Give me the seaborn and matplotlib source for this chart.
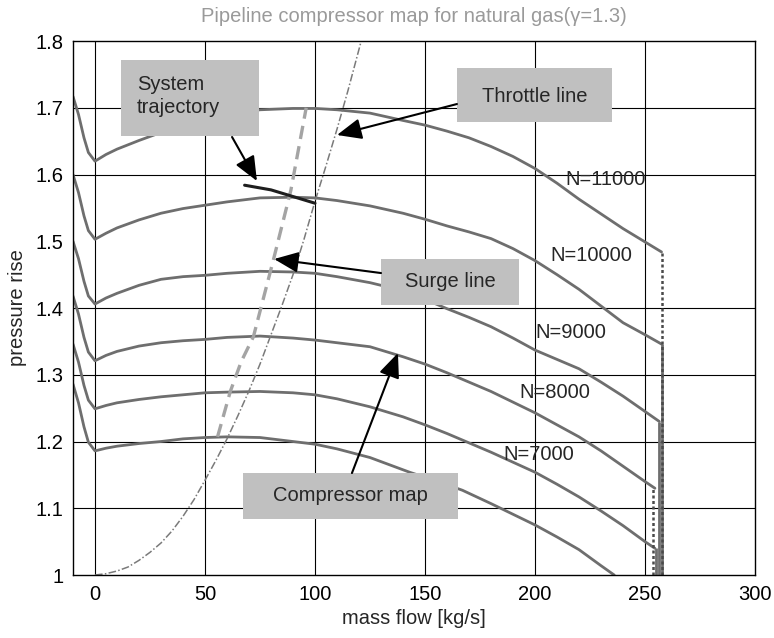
import matplotlib
matplotlib.use("Agg")
import matplotlib.pyplot as plt
from matplotlib.patches import Rectangle
import seaborn as sns
import pandas as pd

# Mass flow [kg/s] sample points shared by the upper speed lines
flow_grid = [-10, -7.5, -5, -3, 0, 5, 10, 20, 30, 40, 50, 60, 75, 90, 100, 110, 125, 140, 150,
             160, 170, 180, 190, 200, 210, 220, 230, 240, 250]

# Pressure rise along each speed line
rise_11000 = [1.717, 1.690, 1.655, 1.633, 1.620, 1.630, 1.638, 1.651, 1.663, 1.674, 1.683, 1.690,
              1.697, 1.699, 1.699, 1.697, 1.692, 1.681, 1.674, 1.665, 1.655, 1.642, 1.627, 1.609,
              1.587, 1.563, 1.541, 1.519, 1.499]
rise_10000 = [1.600, 1.573, 1.538, 1.516, 1.503, 1.512, 1.520, 1.532, 1.542, 1.549, 1.554, 1.559,
              1.565, 1.566, 1.565, 1.561, 1.553, 1.542, 1.533, 1.523, 1.514, 1.504, 1.489, 1.471,
              1.450, 1.428, 1.403, 1.378, 1.360]
rise_9000 = [1.500, 1.474, 1.440, 1.418, 1.406, 1.415, 1.422, 1.434, 1.443, 1.447, 1.449, 1.452,
             1.455, 1.454, 1.452, 1.447, 1.438, 1.426, 1.413, 1.399, 1.386, 1.372, 1.355, 1.337,
             1.323, 1.309, 1.289, 1.268, 1.245]
rise_8000 = [1.418, 1.391, 1.356, 1.334, 1.321, 1.329, 1.335, 1.343, 1.348, 1.351, 1.353, 1.356,
             1.358, 1.355, 1.352, 1.348, 1.342, 1.327, 1.316, 1.303, 1.289, 1.275, 1.259, 1.243,
             1.225, 1.207, 1.186, 1.163, 1.140]
rise_7000 = [1.346, 1.319, 1.284, 1.262, 1.249, 1.254, 1.258, 1.263, 1.267, 1.270, 1.273, 1.274,
             1.275, 1.273, 1.270, 1.264, 1.252, 1.237, 1.225, 1.212, 1.198, 1.184, 1.169, 1.154,
             1.136, 1.117, 1.096, 1.074, 1.050]

# Choke end of each upper speed line (flow, pressure rise)
choke_flow = [257.5, 257.5, 256.5, 254.5, 254.5]
choke_rise = [1.484, 1.346, 1.230, 1.130, 1.040]

# Lowest speed line runs out through the bottom of the map
flow_6000 = [-10, -7.5, -5, -3, 0, 5, 10, 20, 30, 40, 50, 60, 75, 90, 100, 110, 125, 143, 155,
             167, 180, 190, 200, 210, 220, 230, 236]
rise_6000 = [1.286, 1.258, 1.222, 1.199, 1.186, 1.190, 1.193, 1.197, 1.200, 1.204, 1.206, 1.207,
             1.206, 1.200, 1.196, 1.189, 1.176, 1.154, 1.141, 1.127, 1.107, 1.091, 1.075, 1.057,
             1.038, 1.014, 1.000]

# Surge line, throttle line and system trajectory
surge_flow = [55.7, 61.5, 66.5, 72, 81, 89, 96]
surge_rise = [1.207, 1.275, 1.320, 1.357, 1.471, 1.576, 1.700]

throttle_flow = [0, 5, 10, 15, 20, 25, 30, 35, 40, 45, 50, 55, 60, 65, 70, 75, 80, 85, 90, 95,
                 100, 105, 110, 115, 121]
throttle_rise = [1.000, 1.002, 1.006, 1.012, 1.022, 1.034, 1.048, 1.066, 1.088, 1.113, 1.142,
                 1.172, 1.204, 1.239, 1.276, 1.316, 1.360, 1.404, 1.450, 1.503, 1.560, 1.613,
                 1.668, 1.726, 1.800]

traj_flow = [68, 80, 88, 100]
traj_rise = [1.584, 1.577, 1.569, 1.557]

speed_labels = ["N=11000", "N=10000", "N=9000", "N=8000", "N=7000"]

x_ticks = [0, 50, 100, 150, 200, 250, 300]
y_ticks = [1.0, 1.1, 1.2, 1.3, 1.4, 1.5, 1.6, 1.7, 1.8]
y_tick_labels = ["1", "1.1", "1.2", "1.3", "1.4", "1.5", "1.6", "1.7", "1.8"]
y_grid = [1.1, 1.2, 1.3, 1.4, 1.6, 1.7]

sns.set_theme(style="white")
plt.rcParams["font.family"] = ["Liberation Sans", "DejaVu Sans"]

fig = plt.figure(figsize=(7.74, 6.38), dpi=100)
ax = fig.add_axes([0.0943, 0.0987, 0.8812, 0.8370])

curve_color = "#6e6e6e"
upper_rises = [rise_11000, rise_10000, rise_9000, rise_8000, rise_7000]
for rise, cf, cr in zip(upper_rises, choke_flow, choke_rise):
    df = pd.DataFrame({"flow": flow_grid + [cf], "rise": rise + [cr]})
    sns.lineplot(data=df, x="flow", y="rise", ax=ax, color=curve_color, lw=2.0,
                 sort=False, estimator=None, zorder=3)

df6 = pd.DataFrame({"flow": flow_6000, "rise": rise_6000})
sns.lineplot(data=df6, x="flow", y="rise", ax=ax, color=curve_color, lw=2.0,
             sort=False, estimator=None, zorder=3)

# Vertical choke drops down to the bottom of the map
ax.vlines(choke_flow[1], 1.0, choke_rise[1], color=curve_color, lw=2.0, zorder=3)
ax.vlines(choke_flow[2], 1.0, choke_rise[2], color=curve_color, lw=2.0, zorder=3)
ax.vlines(choke_flow[4] + 0.6, 1.0, choke_rise[4], color=curve_color, lw=2.0, zorder=3)
ax.vlines(choke_flow[0], 1.0, choke_rise[0], color="#4a4a4a", lw=1.8,
          linestyles=(0, (1.2, 1.0)), zorder=4)
ax.vlines(choke_flow[3] - 0.8, 1.0, choke_rise[3], color="#4a4a4a", lw=1.8,
          linestyles=(0, (1.2, 1.0)), zorder=4)

surge_df = pd.DataFrame({"flow": surge_flow, "rise": surge_rise})
sns.lineplot(data=surge_df, x="flow", y="rise", ax=ax, color="#a4a4a4", lw=2.4,
             linestyle=(0, (4, 2.2)), sort=False, estimator=None, zorder=3)

throttle_df = pd.DataFrame({"flow": throttle_flow, "rise": throttle_rise})
sns.lineplot(data=throttle_df, x="flow", y="rise", ax=ax, color="#7a7a7a", lw=1.1,
             linestyle=(0, (5, 1.5, 1, 1.5)), sort=False, estimator=None, zorder=3)

traj_df = pd.DataFrame({"flow": traj_flow, "rise": traj_rise})
sns.lineplot(data=traj_df, x="flow", y="rise", ax=ax, color="#1e1e1e", lw=2.2,
             sort=False, estimator=None, zorder=4)

# Axes, ticks and grid
ax.set_xlim(-10, 300)
ax.set_ylim(1.0, 1.8)
ax.set_xticks(x_ticks)
ax.set_yticks(y_ticks)
ax.set_yticklabels(y_tick_labels)
ax.tick_params(direction="in", length=5, width=0.8, labelsize=14.5, colors="black", pad=7)
ax.grid(False)
for xv in x_ticks[1:-1] + [0]:
    ax.axvline(xv, color="black", lw=0.8, zorder=1)
for yv in y_grid:
    ax.axhline(yv, color="black", lw=0.8, zorder=1)
for sp in ax.spines.values():
    sp.set_color("black")
    sp.set_linewidth(1.0)
    sp.set_zorder(8)
ax.set_xlabel("mass flow [kg/s]", fontsize=14.5, labelpad=4)
ax.set_ylabel("pressure rise", fontsize=14.5, labelpad=6)
ax.set_title("Pipeline compressor map for natural gas(γ=1.3)", fontsize=14.5,
             color="#9a9a9a", pad=14)

# Callout boxes with arrows
box_color = "#c0c0c0"
callouts = [
    # (x0, y0, x1, y1)
    (11.8, 1.6577, 74.5, 1.7715),
    (164.5, 1.6787, 235.0, 1.7596),
    (130.0, 1.4045, 192.7, 1.4734),
    (67.3, 1.0839, 165.0, 1.1528),
]
for x0, y0, x1, y1 in callouts:
    ax.add_patch(Rectangle((x0, y0), x1 - x0, y1 - y0, facecolor=box_color,
                           edgecolor="none", zorder=5))

ax.text(19.1, 1.7176, "System\ntrajectory", ha="left", va="center", fontsize=14.5,
        linespacing=1.25, zorder=6)
ax.text(199.8, 1.7165, "Throttle line", ha="center", va="center", fontsize=14.5, zorder=6)
ax.text(161.4, 1.439, "Surge line", ha="center", va="center", fontsize=14.5, zorder=6)
ax.text(116.1, 1.1184, "Compressor map", ha="center", va="center", fontsize=14.5, zorder=6)

arrows = [
    ((62.3, 1.6562), (73.6, 1.5903)),
    ((164.5, 1.7056), (110.0, 1.6592)),
    ((130.0, 1.4524), (81.4, 1.4734)),
    ((116.8, 1.1528), (137.7, 1.3326)),
]
for tail, tip in arrows:
    ax.annotate("", xy=tip, xytext=tail,
                arrowprops=dict(arrowstyle="-|>,head_length=0.75,head_width=0.32",
                                color="black", lw=1.5, mutation_scale=20,
                                shrinkA=0, shrinkB=0),
                zorder=7)

# Speed labels
label_pos = [(214.0, 1.592), (206.8, 1.479), (200.0, 1.364), (192.7, 1.273), (185.5, 1.181)]
for (lx, ly), txt in zip(label_pos, speed_labels):
    ax.text(lx, ly, txt, ha="left", va="center", fontsize=14.5, zorder=6)

fig.savefig("out.png", dpi=100)
